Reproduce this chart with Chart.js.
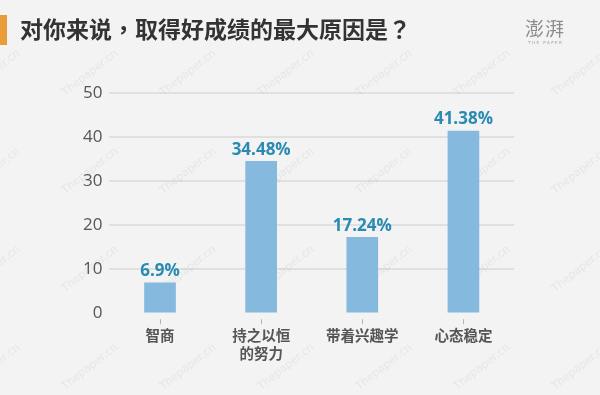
<!DOCTYPE html>
<html>
<head>
<meta charset="utf-8">
<script src="https://cdn.jsdelivr.net/npm/chart.js@4"></script>
<style>
  html,body{margin:0;padding:0;background:#f3f3f3;}
  #wrap{position:relative;width:600px;height:395px;overflow:hidden;background:#f3f3f3;}
  #bar{position:absolute;left:0;top:15px;width:7px;height:30px;background:#e99d3a;}
  #title{position:absolute;left:20px;top:13px;font-family:"Noto Sans CJK SC",sans-serif;font-weight:700;font-size:23px;letter-spacing:0px;color:#333;white-space:nowrap;line-height:30px;}
  #title .p{font-family:"Noto Sans CJK TC",sans-serif;}
  #logo{position:absolute;left:525px;top:17px;font-family:"Noto Sans CJK SC",serif;font-size:19px;color:#8c8c8c;line-height:22px;letter-spacing:1px;}
  #logo2{position:absolute;left:528px;top:40px;font-family:"DejaVu Sans",sans-serif;font-size:4px;color:#9a9a9a;letter-spacing:1.5px;}
  canvas{position:absolute;left:0;top:0;}
</style>
</head>
<body>
<div id="wrap">
  <canvas id="c" width="600" height="395"></canvas>
  <div id="bar"></div>
  <div id="title">对你来说<span class="p">，</span>取得好成绩的最大原因是<span class="p">？</span></div>
  <div id="logo">澎湃</div>
  <div id="logo2">THE PAPER</div>
</div>
<script>
const categories = ['智商', ['持之以恒','的努力'], '带着兴趣学', '心态稳定'];
const values = [6.9, 34.48, 17.24, 41.38];
const valueLabels = ['6.9%', '34.48%', '17.24%', '41.38%'];
const yTicks = [0, 10, 20, 30, 40, 50];

const watermarkPlugin = {
  id: 'watermark',
  beforeDatasetsDraw(chart) {
    const ctx = chart.ctx;
    ctx.save();
    ctx.font = '11px "DejaVu Sans", sans-serif';
    ctx.fillStyle = 'rgba(160,160,160,0.16)';
    ctx.textAlign = 'center';
    ctx.textBaseline = 'middle';
    for (let row = -1; row < 5; row++) {
      for (let col = -1; col < 7; col++) {
        ctx.save();
        ctx.translate(90 + col * 98, 73 + row * 98);
        ctx.rotate(-38 * Math.PI / 180);
        ctx.fillText('Thepaper.cn', 0, 0);
        ctx.restore();
      }
    }
    ctx.restore();
  }
};

const dataLabelPlugin = {
  id: 'dataLabels',
  afterDatasetsDraw(chart) {
    const ctx = chart.ctx;
    const meta = chart.getDatasetMeta(0);
    ctx.save();
    ctx.font = 'bold 17px "Open Sans", "DejaVu Sans", sans-serif';
    ctx.fillStyle = '#2a8ab3';
    ctx.textAlign = 'center';
    ctx.textBaseline = 'bottom';
    meta.data.forEach((el, i) => {
      ctx.fillText(valueLabels[i], el.x, el.y - 3);
    });
    ctx.restore();
  }
};

const tickMarkPlugin = {
  id: 'tickMarks',
  afterDraw(chart) {
    const ctx = chart.ctx;
    const xs = chart.scales.x;
    const bottom = chart.chartArea.bottom;
    ctx.save();
    ctx.strokeStyle = '#b5b5b5';
    ctx.lineWidth = 1;
    for (let i = 0; i < values.length; i++) {
      const x = Math.round(xs.getPixelForValue(i)) + 0.5;
      ctx.beginPath();
      ctx.moveTo(x, bottom + 6);
      ctx.lineTo(x, bottom + 11);
      ctx.stroke();
    }
    ctx.restore();
  }
};

new Chart(document.getElementById('c'), {
  type: 'bar',
  data: {
    labels: categories,
    datasets: [{
      data: values,
      backgroundColor: '#86b9de',
      borderWidth: 0,
      barThickness: 31
    }]
  },
  options: {
    responsive: false,
    animation: false,
    devicePixelRatio: 1,
    layout: { padding: { left: 76, right: 86, top: 93, bottom: 19 } },
    plugins: { legend: { display: false }, tooltip: { enabled: false } },
    scales: {
      y: {
        min: 0, max: 50,
        afterBuildTicks(scale) { scale.ticks = yTicks.map(v => ({ value: v })); },
        ticks: {
          color: '#555',
          font: { family: '"Open Sans", "DejaVu Sans", sans-serif', size: 17 },
          padding: 7
        },
        grid: {
          color: (c) => c.tick && c.tick.value === 0 ? 'rgba(0,0,0,0)' : '#e0e0e0',
          lineWidth: 2,
          drawTicks: false
        },
        border: { display: false }
      },
      x: {
        ticks: {
          color: '#555',
          font: { family: '"Noto Sans CJK SC", sans-serif', size: 14.5, weight: 'bold' },
          padding: 14,
          maxRotation: 0,
          autoSkip: false
        },
        grid: { display: false, drawTicks: false },
        border: { display: false }
      }
    }
  },
  plugins: [watermarkPlugin, dataLabelPlugin, tickMarkPlugin]
});
</script>
</body>
</html>
